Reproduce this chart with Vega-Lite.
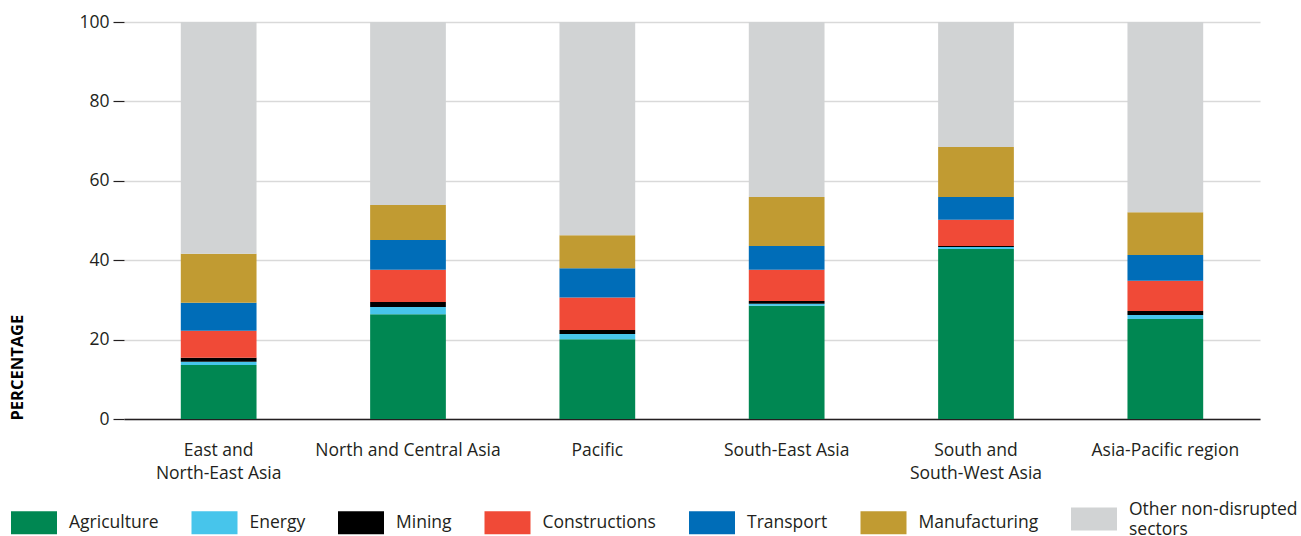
{
  "$schema": "https://vega.github.io/schema/vega-lite/v6.json",
  "width": 1136,
  "height": 397,
  "autosize": "none",
  "padding": {"left": 124, "top": 22, "right": 41, "bottom": 117},
  "background": "white",
  "config": {
    "view": {"stroke": null},
    "font": "Open Sans"
  },
  "data": {
    "values": [
      {"region": "East and North-East Asia", "sector": "Agriculture", "rank": 1, "value": 13.6},
      {"region": "East and North-East Asia", "sector": "Energy", "rank": 2, "value": 0.8},
      {"region": "East and North-East Asia", "sector": "Mining", "rank": 3, "value": 1.0},
      {"region": "East and North-East Asia", "sector": "Constructions", "rank": 4, "value": 6.8},
      {"region": "East and North-East Asia", "sector": "Transport", "rank": 5, "value": 7.1},
      {"region": "East and North-East Asia", "sector": "Manufacturing", "rank": 6, "value": 12.3},
      {"region": "East and North-East Asia", "sector": "Other non-disrupted sectors", "rank": 7, "value": 58.4},
      {"region": "North and Central Asia", "sector": "Agriculture", "rank": 1, "value": 26.4},
      {"region": "North and Central Asia", "sector": "Energy", "rank": 2, "value": 1.8},
      {"region": "North and Central Asia", "sector": "Mining", "rank": 3, "value": 1.3},
      {"region": "North and Central Asia", "sector": "Constructions", "rank": 4, "value": 8.1},
      {"region": "North and Central Asia", "sector": "Transport", "rank": 5, "value": 7.5},
      {"region": "North and Central Asia", "sector": "Manufacturing", "rank": 6, "value": 8.8},
      {"region": "North and Central Asia", "sector": "Other non-disrupted sectors", "rank": 7, "value": 46.1},
      {"region": "Pacific", "sector": "Agriculture", "rank": 1, "value": 20.1},
      {"region": "Pacific", "sector": "Energy", "rank": 2, "value": 1.3},
      {"region": "Pacific", "sector": "Mining", "rank": 3, "value": 1.0},
      {"region": "Pacific", "sector": "Constructions", "rank": 4, "value": 8.2},
      {"region": "Pacific", "sector": "Transport", "rank": 5, "value": 7.4},
      {"region": "Pacific", "sector": "Manufacturing", "rank": 6, "value": 8.3},
      {"region": "Pacific", "sector": "Other non-disrupted sectors", "rank": 7, "value": 53.7},
      {"region": "South-East Asia", "sector": "Agriculture", "rank": 1, "value": 28.5},
      {"region": "South-East Asia", "sector": "Energy", "rank": 2, "value": 0.5},
      {"region": "South-East Asia", "sector": "Mining", "rank": 3, "value": 0.7},
      {"region": "South-East Asia", "sector": "Constructions", "rank": 4, "value": 7.9},
      {"region": "South-East Asia", "sector": "Transport", "rank": 5, "value": 6.0},
      {"region": "South-East Asia", "sector": "Manufacturing", "rank": 6, "value": 12.3},
      {"region": "South-East Asia", "sector": "Other non-disrupted sectors", "rank": 7, "value": 44.1},
      {"region": "South and South-West Asia", "sector": "Agriculture", "rank": 1, "value": 42.8},
      {"region": "South and South-West Asia", "sector": "Energy", "rank": 2, "value": 0.5},
      {"region": "South and South-West Asia", "sector": "Mining", "rank": 3, "value": 0.3},
      {"region": "South and South-West Asia", "sector": "Constructions", "rank": 4, "value": 6.6},
      {"region": "South and South-West Asia", "sector": "Transport", "rank": 5, "value": 5.7},
      {"region": "South and South-West Asia", "sector": "Manufacturing", "rank": 6, "value": 12.6},
      {"region": "South and South-West Asia", "sector": "Other non-disrupted sectors", "rank": 7, "value": 31.5},
      {"region": "Asia-Pacific region", "sector": "Agriculture", "rank": 1, "value": 25.2},
      {"region": "Asia-Pacific region", "sector": "Energy", "rank": 2, "value": 1.0},
      {"region": "Asia-Pacific region", "sector": "Mining", "rank": 3, "value": 1.0},
      {"region": "Asia-Pacific region", "sector": "Constructions", "rank": 4, "value": 7.6},
      {"region": "Asia-Pacific region", "sector": "Transport", "rank": 5, "value": 6.5},
      {"region": "Asia-Pacific region", "sector": "Manufacturing", "rank": 6, "value": 10.8},
      {"region": "Asia-Pacific region", "sector": "Other non-disrupted sectors", "rank": 7, "value": 47.9}
    ]
  },
  "mark": {"type": "bar"},
  "encoding": {
    "x": {
      "field": "region",
      "type": "nominal",
      "sort": ["East and North-East Asia", "North and Central Asia", "Pacific", "South-East Asia", "South and South-West Asia", "Asia-Pacific region"],
      "scale": {"paddingInner": 0.6, "paddingOuter": 0.3},
      "axis": {
        "title": null,
        "labelAngle": 0,
        "ticks": false,
        "domain": true,
        "domainColor": "#231f20",
        "domainWidth": 1.5,
        "labelFontSize": 17.5,
        "labelColor": "#231f20",
        "labelPadding": 22,
        "labelLineHeight": 23,
        "labelBaseline": "top",
        "labelLimit": 300,
        "labelExpr": "datum.label == 'East and North-East Asia' ? ['East and', 'North-East Asia'] : datum.label == 'South and South-West Asia' ? ['South and', 'South-West Asia'] : datum.label"
      }
    },
    "y": {
      "field": "value",
      "type": "quantitative",
      "stack": "zero",
      "scale": {"domain": [0, 100], "nice": false},
      "axis": {
        "title": "PERCENTAGE",
        "titleFontSize": 16.5,
        "titleFontWeight": "bold",
        "titleColor": "#000000",
        "titleAngle": 270,
        "titleAlign": "left",
        "titleBaseline": "middle",
        "titleX": -107,
        "titleY": 398,
        "values": [0, 20, 40, 60, 80, 100],
        "domain": false,
        "grid": true,
        "gridColor": "#d9d9d9",
        "gridWidth": 1.5,
        "tickColor": "#231f20",
        "tickSize": 11,
        "tickWidth": 1.2,
        "labelFontSize": 17.5,
        "labelColor": "#231f20",
        "labelPadding": 4
      }
    },
    "order": {"field": "rank", "type": "quantitative", "sort": "ascending"},
    "color": {
      "field": "sector",
      "type": "nominal",
      "sort": ["Agriculture", "Energy", "Mining", "Constructions", "Transport", "Manufacturing", "Other non-disrupted sectors"],
      "scale": {
        "domain": ["Agriculture", "Energy", "Mining", "Constructions", "Transport", "Manufacturing", "Other non-disrupted sectors"],
        "range": ["#008752", "#47c5eb", "#000000", "#f04a37", "#006db8", "#c19b32", "#d1d3d4"]
      },
      "legend": {
        "title": null,
        "orient": "none",
        "direction": "horizontal",
        "columns": 7,
        "legendX": -113,
        "legendY": 474,
        "padding": 0,
        "symbolType": "M-1,-0.5H1V0.5H-1Z",
        "symbolSize": 2116,
        "symbolStrokeWidth": 0,
        "symbolOpacity": 1,
        "labelOffset": 12,
        "columnPadding": 32.5,
        "labelFontSize": 17.5,
        "labelColor": "#231f20",
        "labelLimit": 400,
        "labelLineHeight": 20,
        "labelExpr": "datum.label == 'Other non-disrupted sectors' ? ['Other non-disrupted', 'sectors'] : datum.label",
        "encode": {
          "labels": {
            "update": {
              "dy": {"signal": "datum.label == 'Other non-disrupted sectors' ? -9 : 0"}
            }
          }
        }
      }
    }
  }
}
